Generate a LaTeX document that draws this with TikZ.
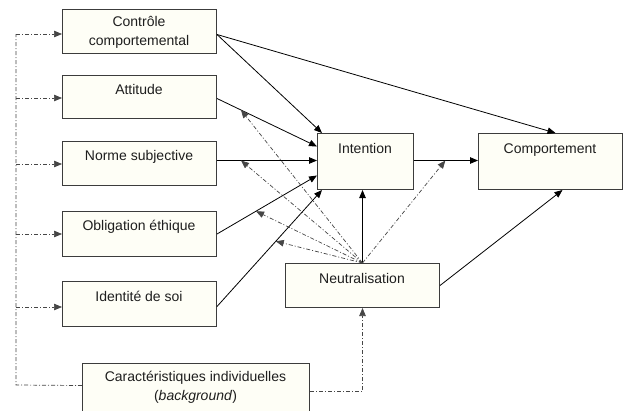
\documentclass[tikz,border=0pt]{standalone}
\usepackage{fontspec}
\setmainfont{Liberation Sans}
\usetikzlibrary{arrows.meta,calc}
\definecolor{boxfill}{RGB}{254,254,246}
\definecolor{boxline}{RGB}{60,60,60}
\definecolor{ddcol}{RGB}{70,70,70}
\definecolor{txt}{RGB}{30,30,30}
\begin{document}
\begin{tikzpicture}[x=1pt,y=-1pt,
  box/.style={draw=boxline,fill=boxfill,line width=1pt,inner sep=0pt,anchor=north west},
  lbl/.style={font=\fontsize{14}{19}\selectfont,align=center,inner sep=0pt,text=txt},
  tip/.style={-{Triangle[length=8pt,width=6.5pt]}},
  arr/.style={line width=0.8pt,black,tip},
  dd/.style={line width=0.7pt,draw=ddcol,dash pattern=on 4pt off 2pt on 1pt off 2pt},
  dda/.style={dd,tip}]
\clip (0,0) rectangle (623,410);
\fill[white] (0,0) rectangle (623,410);
% boxes
\node[box,minimum width=154pt,minimum height=44pt] (ctrl) at (62,9) {};
\node[box,minimum width=154pt,minimum height=43pt] (att) at (62,75) {};
\node[box,minimum width=154pt,minimum height=44pt] (norm) at (62,141) {};
\node[box,minimum width=154pt,minimum height=45pt] (obl) at (62,211) {};
\node[box,minimum width=154pt,minimum height=45pt] (ide) at (62,281) {};
\node[box,minimum width=227pt,minimum height=52pt] (car) at (82,363) {};
\node[box,minimum width=96pt,minimum height=56pt] (int) at (317,133) {};
\node[box,minimum width=144pt,minimum height=56pt] (comp) at (478,133) {};
\node[box,minimum width=154pt,minimum height=44pt] (neu) at (285,263) {};
% labels
\node[lbl,anchor=center] (ctrl-t) at (139,32.5) {Contrôle\\comportemental};
\node[lbl,anchor=base] (att-t) at (139,94) {Attitude};
\node[lbl,anchor=base] (norm-t) at (139,160) {Norme subjective};
\node[lbl,anchor=base] (obl-t) at (139,230) {Obligation éthique};
\node[lbl,anchor=base] (ide-t) at (139,301) {Identité de soi};
\node[lbl,anchor=base] (int-t) at (365,153) {Intention};
\node[lbl,anchor=base] (comp-t) at (550,153) {Comportement};
\node[lbl,anchor=base] (neu-t) at (362,283) {Neutralisation};
\node[lbl,anchor=center] (car-t) at (195.5,387.5) {Caractéristiques individuelles\\(\textit{background})};
% solid connectors
\coordinate (ctrlo) at ($(ctrl.east)+(0,3)$);
\coordinate (atto) at ($(att.east)+(0,1.5)$);
\coordinate (atti) at ($(int.west)+(0,-15)$);
\coordinate (normo) at ($(norm.east)+(0,-3)$);
\coordinate (normi) at ($(int.west)+(0,-1)$);
\coordinate (oblo) at (obl.east);
\coordinate (obli) at ($(int.west)+(0,14)$);
\coordinate (ideo) at ($(ide.east)+(0,2.5)$);
\coordinate (idei) at ($(int.south west)+(5,0)$);
\coordinate (into) at ($(int.east)+(0,-1)$);
\coordinate (compi) at ($(comp.west)+(0,-1)$);
\draw[arr] (ctrlo) -- ($(int.north west)+(5,0)$);
\draw[arr] (ctrlo) -- ($(comp.north)+(5,0)$);
\draw[arr] (atto) -- (atti);
\draw[arr] (normo) -- (normi);
\draw[arr] (oblo) -- (obli);
\draw[arr] (ideo) -- (idei);
\draw[arr] (into) -- (compi);
\draw[arr] (neu.north) -- (neu.north |- int.south);
\draw[arr] (neu.east) -- ($(comp.south)+(12,0)$);
% dash-dot from neutralisation
\draw[dda] (neu.north) -- ($(atto)!0.24!(atti)$);
\draw[dda] (neu.north) -- ($(normo)!0.24!(normi)$);
\draw[dda] (neu.north) -- ($(oblo)!0.39!(obli)$);
\draw[dda] (neu.north) -- ($(ideo)!0.56!(idei)$);
\draw[dda] (neu.north) -- ($(into)!0.49!(compi)$);
% left loop
\coordinate (lb) at (16,385);
\coordinate (lt) at (16,34);
\coordinate (la) at (16,98);
\coordinate (ln) at (16,164);
\coordinate (lo) at (16,234);
\coordinate (li) at (16,307);
\draw[dd] ($(car.west)+(0,-4)$) -- (lb) -- (lt);
\draw[dda] (lt) -- (lt -| ctrl.west);
\draw[dda] (la) -- (la -| att.west);
\draw[dda] (ln) -- (ln -| norm.west);
\draw[dda] (lo) -- (lo -| obl.west);
\draw[dda] (li) -- (li -| ide.west);
% background to neutralisation
\coordinate (caro) at ($(car.east)+(0,2)$);
\draw[dda] (caro) -- (caro -| neu.south) -- (neu.south);
\end{tikzpicture}
\end{document}
